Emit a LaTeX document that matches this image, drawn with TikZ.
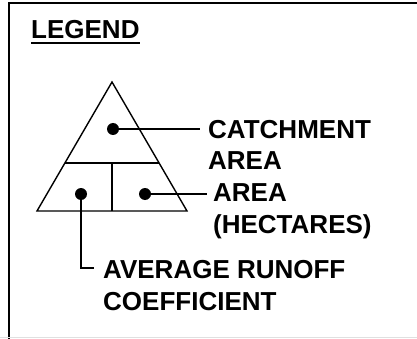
\documentclass[tikz,border=0pt]{standalone}
\usepackage{fontspec}
\setmainfont{Liberation Sans}
\usepackage{tikz}
\usetikzlibrary{positioning}

\tikzset{
  lbl/.style={anchor=base west, inner sep=0pt, align=left, font=\fontsize{26}{32}\selectfont\bfseries},
  dot/.style={circle, fill, inner sep=0pt, minimum size=12pt},
  leader/.style={line width=1.4pt},
}

\begin{document}
\begin{tikzpicture}[x=1pt, y=-1pt]
    \useasboundingbox (0,0) rectangle (417,339);
    \clip (0,0) rectangle (417,339);
    % frame
    \draw[line width=2pt] (9,342) -- (9,3.5) -- (420,3.5);
    \draw[black!12, line width=1pt] (0,337.5) -- (417,337.5);
    \node[lbl] (legend) at (31,39) {LEGEND};
    \draw[line width=1.5pt] ([yshift=-4pt]legend.base west) -- ([yshift=-4pt]legend.base east);
    % triangle
    \coordinate (apex) at (112,82);
    \coordinate (bl) at (37,211);
    \coordinate (br) at (187,211);
    \coordinate (ml) at (65,163);
    \coordinate (mr) at (159,163);
    \coordinate (mc) at (112,163);
    \coordinate (bc) at (112,211);
    \draw[leader] (apex) -- (br) -- (bl) -- cycle;
    \draw[leader] (ml) -- (mr);
    \draw[leader] (mc) -- (bc);
    % dots and labels (anchored on the last line)
    \node[dot] (catch) at (113,129) {};
    \node[dot] (hect) at (145,194) {};
    \node[dot] (runoff) at (81,194) {};
    \node[lbl] (catchtxt) at (208,170) {CATCHMENT\\AREA};
    \node[lbl] (hecttxt) at (213,233) {AREA\\(HECTARES)};
    \node[lbl] (runofftxt) at (103,310) {AVERAGE RUNOFF\\COEFFICIENT};
    \coordinate (catchend) at (200,129);
    \coordinate (hectend) at (207,194);
    \coordinate (runoffend) at (94,268);
    \draw[leader] (catch.center) -- (catchend);
    \draw[leader] (hect.center) -- (hectend);
    \draw[leader] (runoff.center) |- (runoffend);
\end{tikzpicture}
\end{document}
